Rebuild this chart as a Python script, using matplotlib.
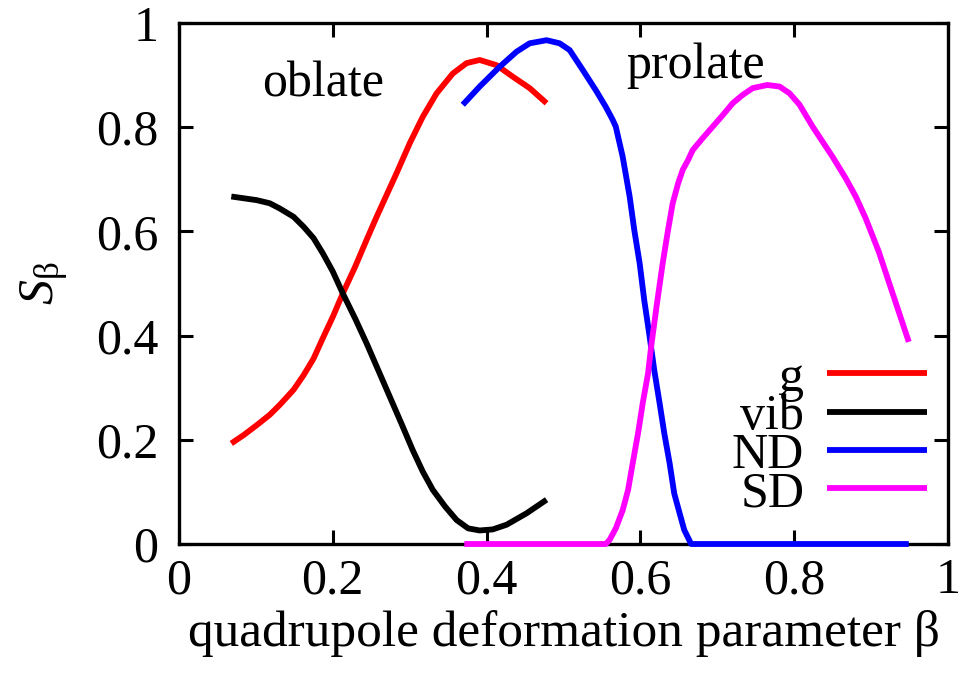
import matplotlib
matplotlib.use("Agg")
import matplotlib.pyplot as plt

plt.rcParams['font.family'] = ['Liberation Serif', 'DejaVu Serif']
plt.rcParams['mathtext.fontset'] = 'custom'
plt.rcParams['mathtext.rm'] = 'Liberation Serif'
plt.rcParams['mathtext.it'] = 'Liberation Serif:italic'

# ---- data ----
g_x = [0.068, 0.084, 0.101, 0.118, 0.131, 0.149, 0.162, 0.175, 0.187, 0.200, 0.213, 0.229, 0.244, 0.257,
       0.270, 0.283, 0.300, 0.317, 0.335, 0.356, 0.374, 0.391, 0.413, 0.434, 0.456, 0.478]
g_y = [0.193, 0.209, 0.228, 0.248, 0.267, 0.296, 0.324, 0.356, 0.395, 0.436, 0.481, 0.532, 0.584, 0.628,
       0.670, 0.712, 0.769, 0.820, 0.865, 0.903, 0.923, 0.929, 0.919, 0.897, 0.875, 0.846]

vib_x = [0.068, 0.101, 0.118, 0.131, 0.149, 0.162, 0.175, 0.187, 0.200, 0.213, 0.229, 0.244, 0.259,
         0.274, 0.289, 0.304, 0.317, 0.330, 0.346, 0.361, 0.376, 0.391, 0.408, 0.426, 0.452, 0.478]
vib_y = [0.667, 0.660, 0.654, 0.644, 0.628, 0.609, 0.587, 0.558, 0.523, 0.481, 0.433, 0.385, 0.334,
         0.283, 0.232, 0.180, 0.139, 0.104, 0.072, 0.046, 0.030, 0.026, 0.028, 0.037, 0.059, 0.085]

nd_x = [0.369, 0.391, 0.417, 0.439, 0.456, 0.478, 0.495, 0.508, 0.525, 0.542, 0.555, 0.564, 0.568,
        0.577, 0.586, 0.592, 0.599, 0.605, 0.612, 0.618, 0.625, 0.631, 0.638, 0.644, 0.651, 0.657,
        0.666, 0.949]
nd_y = [0.843, 0.878, 0.916, 0.945, 0.961, 0.967, 0.961, 0.948, 0.910, 0.871, 0.839, 0.814, 0.801,
        0.743, 0.667, 0.603, 0.539, 0.468, 0.398, 0.334, 0.270, 0.213, 0.155, 0.097, 0.059, 0.027,
        0.0, 0.0]

sd_x = [0.371, 0.555, 0.560, 0.568, 0.577, 0.584, 0.590, 0.597, 0.603, 0.610, 0.614, 0.621, 0.629,
        0.636, 0.642, 0.649, 0.655, 0.662, 0.668, 0.681, 0.694, 0.707, 0.720, 0.733, 0.746, 0.765,
        0.781, 0.794, 0.807, 0.824, 0.850, 0.867, 0.880, 0.893, 0.910, 0.928, 0.949]
sd_y = [0.0, 0.0, 0.008, 0.030, 0.065, 0.104, 0.155, 0.213, 0.270, 0.328, 0.379, 0.456, 0.539,
        0.603, 0.654, 0.692, 0.718, 0.737, 0.756, 0.779, 0.801, 0.823, 0.846, 0.862, 0.875, 0.881,
        0.878, 0.865, 0.843, 0.801, 0.743, 0.702, 0.667, 0.625, 0.561, 0.481, 0.388]

labels = ['g', 'vib', 'ND', 'SD']
colors = ['#ff0000', '#000000', '#0000ff', '#ff00ff']
xticks = [0, 0.2, 0.4, 0.6, 0.8, 1]
xticklabels = ['0', '0.2', '0.4', '0.6', '0.8', '1']
yticks = [0, 0.2, 0.4, 0.6, 0.8, 1]
yticklabels = ['0', '0.2', '0.4', '0.6', '0.8', '1']

FS = 36

fig = plt.figure(figsize=(9.7, 6.74), dpi=100)
ax = fig.add_axes([179/970, 1-544/674, (948-179)/970, (544-23)/674])

series = [(g_x, g_y), (vib_x, vib_y), (nd_x, nd_y), (sd_x, sd_y)]
for (sx, sy), c in zip(series, colors):
    ax.plot(sx, sy, color=c, lw=4.2, clip_on=False, zorder=3,
            solid_capstyle='butt', solid_joinstyle='round')

ax.set_xlim(0, 1)
ax.set_ylim(0, 1)
ax.set_xticks(xticks)
ax.set_xticklabels(xticklabels)
ax.set_yticks(yticks)
ax.set_yticklabels(yticklabels)
ax.tick_params(direction='in', length=10, width=2.2, labelsize=FS, top=True, right=True)
ax.tick_params(axis='x', pad=10)
ax.tick_params(axis='y', pad=15)
for s in ax.spines.values():
    s.set_linewidth(2.4)

ax.set_xlabel('quadrupole deformation parameter β', fontsize=37, labelpad=4)
ax.set_ylabel(r'$S_{\mathrm{β}}$', fontsize=FS, labelpad=18)

ax.text(0.108, 0.858, 'oblate', fontsize=FS, ha='left', va='baseline')
ax.text(0.582, 0.894, 'prolate', fontsize=FS, ha='left', va='baseline')

# legend (gnuplot-style: right-aligned text, sample line on the right)
ly0, dly = 0.328, 0.0737
for i, (lab, c) in enumerate(zip(labels, colors)):
    ly = ly0 - i * dly
    ax.plot([0.843, 0.973], [ly, ly], color=c, lw=4.2, transform=ax.transAxes,
            clip_on=False, zorder=3, solid_capstyle='butt')
    ax.text(0.813, ly - 0.034, lab, fontsize=FS, ha='right', va='baseline',
            transform=ax.transAxes)

fig.savefig('out.png', dpi=100)
